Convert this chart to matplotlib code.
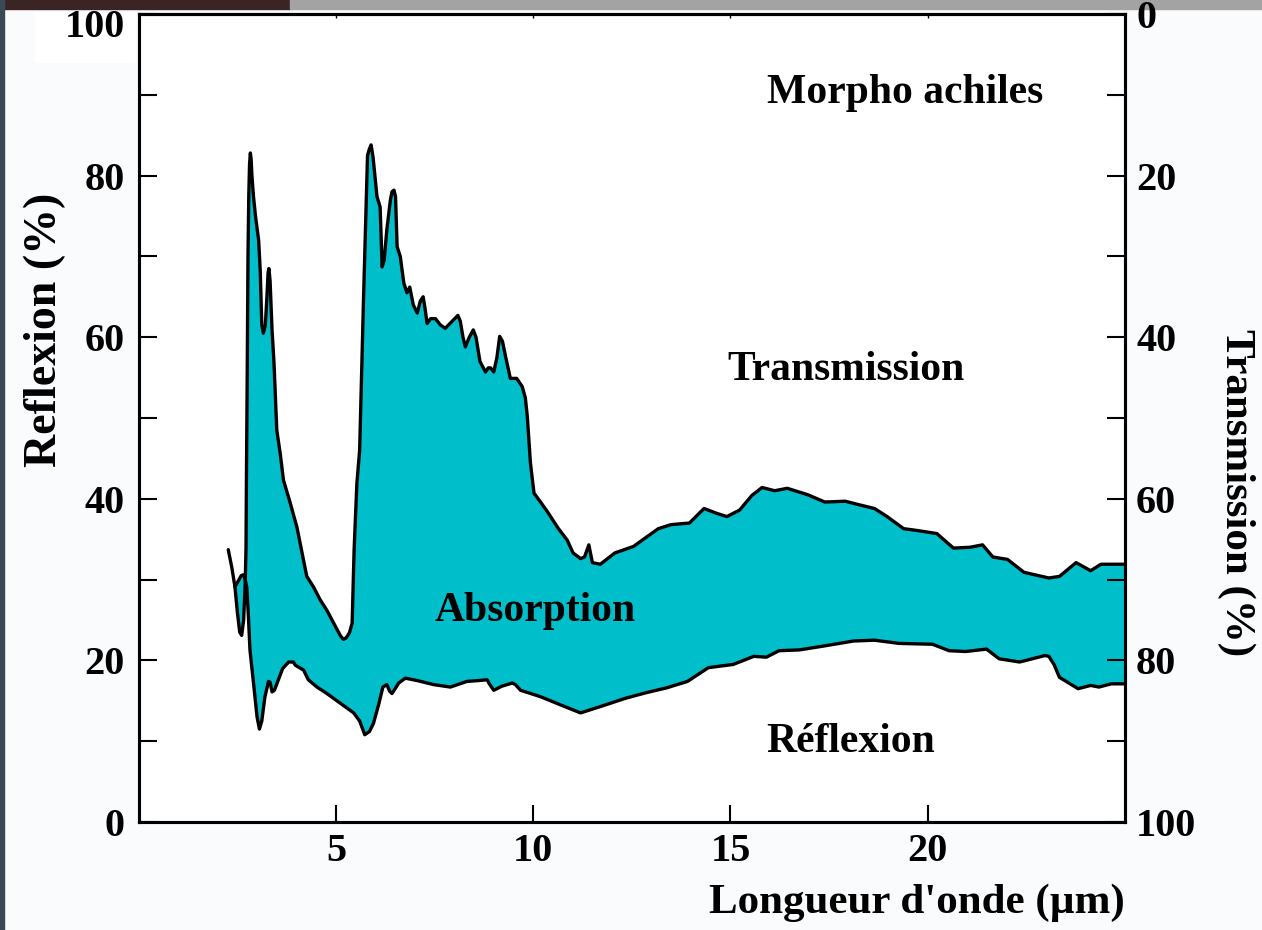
import matplotlib
matplotlib.use("Agg")
import matplotlib.pyplot as plt
from matplotlib.patches import Rectangle
import numpy as np

# ---- data ----
upper_x = [2.44, 2.50, 2.56, 2.61, 2.66, 2.70, 2.72, 2.73, 2.75, 2.77, 2.79, 2.81, 2.83, 2.85, 2.87,
           2.91, 2.96, 3.04, 3.08, 3.12, 3.16, 3.21, 3.25, 3.28, 3.30, 3.33, 3.38, 3.43, 3.50, 3.59,
           3.67, 3.75, 3.84, 4.01, 4.26, 4.43, 4.60, 4.77, 5.03, 5.12, 5.19, 5.26, 5.34, 5.41, 5.46, 5.53,
           5.60, 5.70, 5.77, 5.80, 5.84, 5.89, 5.94, 6.04, 6.12, 6.17, 6.22, 6.29, 6.38, 6.42, 6.47, 6.51, 6.55,
           6.63, 6.72, 6.80, 6.87, 6.96, 7.06, 7.14, 7.21, 7.26, 7.31, 7.40, 7.52, 7.65, 7.77,
           7.95, 8.09, 8.15, 8.22, 8.28, 8.38, 8.48, 8.55, 8.65, 8.79, 8.86, 8.92, 9.00, 9.08,
           9.15, 9.22, 9.30, 9.42, 9.58, 9.72, 9.80, 9.85, 9.93, 10.02, 10.20, 10.36, 10.64,
           10.86, 11.01, 11.20, 11.30, 11.41, 11.50, 11.70, 12.07, 12.54, 13.17, 13.49, 13.96,
           14.33, 14.65, 14.91, 15.23, 15.54, 15.80, 16.12, 16.44, 16.96, 17.39, 17.91, 18.23,
           18.65, 18.97, 19.39, 19.70, 20.23, 20.65, 21.07, 21.39, 21.65, 22.02, 22.44, 23.07,
           23.34, 23.76, 24.13, 24.39, 25.00]
upper_y = [29.1, 26.0, 23.5, 23.1, 25.0, 29.6, 34.0, 42.0, 55.0, 70.0, 77.5, 81.5, 82.8, 82.0, 80.0,
           77.4, 75.0, 72.0, 68.3, 61.5, 60.5, 61.5, 65.0, 68.0, 68.5, 67.0, 60.9, 56.8, 48.5, 45.5,
           42.3, 41.0, 39.5, 36.5, 30.4, 29.1, 27.5, 26.2, 23.8, 23.0, 22.6, 22.8, 23.4, 24.6, 33.7, 41.9,
           46.0, 65.0, 77.4, 82.5, 83.2, 83.8, 82.3, 77.4, 76.1, 68.7, 69.5, 73.3, 77.0, 78.0, 78.2, 77.4, 71.2,
           70.0, 66.7, 65.5, 66.2, 64.0, 63.0, 64.5, 65.0, 63.5, 61.7, 62.3, 62.3, 61.5, 61.1,
           62.0, 62.7, 62.0, 60.0, 58.8, 60.0, 60.9, 60.0, 57.0, 55.7, 56.2, 56.2, 55.7, 57.5,
           60.1, 59.5, 57.6, 54.9, 54.9, 53.9, 52.5, 50.2, 44.4, 40.7, 39.5, 38.4, 36.3,
           34.9, 33.3, 32.6, 32.8, 34.3, 32.1, 31.9, 33.3, 34.1, 36.3, 36.8, 37.0,
           38.8, 38.2, 37.8, 38.6, 40.4, 41.4, 41.0, 41.3, 40.5, 39.6, 39.7, 39.3,
           38.8, 37.8, 36.3, 36.1, 35.7, 33.9, 34.0, 34.3, 32.8, 32.5, 30.9, 30.2,
           30.4, 32.1, 31.1, 31.9, 31.9]

lower_x = [2.27, 2.36, 2.44, 2.52, 2.60, 2.66, 2.70, 2.74, 2.78, 2.82, 2.91, 3.00, 3.06, 3.12,
           3.20, 3.29, 3.33, 3.38, 3.44, 3.54, 3.65, 3.80, 3.92, 3.97, 4.18, 4.30, 4.52, 4.77,
           5.11, 5.45, 5.60, 5.73, 5.85, 5.95, 6.08, 6.19, 6.29, 6.36, 6.42, 6.50, 6.59, 6.76,
           7.06, 7.48, 7.90, 8.32, 8.60, 8.83, 8.90, 9.00, 9.20, 9.47, 9.55, 9.68, 10.19, 10.69,
           11.20, 11.71, 12.33, 12.86, 13.38, 13.91, 14.44, 15.07, 15.59, 15.91, 16.23, 16.75,
           17.39, 18.12, 18.65, 19.28, 20.12, 20.54, 20.96, 21.49, 21.81, 22.33, 22.97, 23.07,
           23.20, 23.34, 23.81, 24.13, 24.34, 24.65, 25.00]
lower_y = [33.7, 31.5, 29.1, 29.8, 30.5, 30.6, 30.0, 29.0, 25.5, 21.3, 17.2, 13.0, 11.5, 12.5,
           15.5, 17.4, 17.3, 16.1, 16.3, 17.6, 19.0, 19.8, 19.8, 19.4, 18.8, 17.6, 16.7, 15.9,
           14.7, 13.5, 12.5, 10.8, 11.2, 12.2, 14.5, 16.7, 17.0, 16.2, 15.9, 16.5, 17.2, 17.8,
           17.5, 17.0, 16.7, 17.4, 17.5, 17.6, 17.0, 16.3, 16.8, 17.2, 17.0, 16.3, 15.5, 14.5,
           13.5, 14.3, 15.3, 16.0, 16.6, 17.4, 19.1, 19.5, 20.5, 20.4, 21.2, 21.3,
           21.8, 22.4, 22.5, 22.1, 22.0, 21.2, 21.1, 21.4, 20.2, 19.8, 20.6, 20.5,
           19.5, 17.9, 16.5, 16.9, 16.7, 17.1, 17.1]

y_ticks = [0, 20, 40, 60, 80, 100]
y_minor = [10, 30, 50, 70, 90]
x_ticks = [5, 10, 15, 20]

labels = {
    "Morpho achiles": (19.42, 89.0),
    "Transmission": (17.92, 54.7),
    "Absorption": (10.06, 24.9),
    "Réflexion": (18.05, 8.7),
}

FILL = "#00BFCB"
FONT = "Liberation Serif"

W, H = 1262, 930
fig = plt.figure(figsize=(W / 100, H / 100), dpi=100, facecolor="#fafbfd")
l, r, b, t = 138.7 / W, 1125 / W, 1 - 822 / H, 1 - 14 / H
ax = fig.add_axes([l, b, r - l, t - b])
ax.set_facecolor("white")

# decorative edges of the original scan
fig.patches.append(Rectangle((0, 1 - 9 / H), 290 / W, 9 / H, transform=fig.transFigure,
                             color="#3b2424", zorder=-1))
fig.patches.append(Rectangle((290 / W, 1 - 9 / H), 1 - 290 / W, 9 / H, transform=fig.transFigure,
                             color="#a3a3a3", zorder=-1))
fig.patches.append(Rectangle((0, 0), 4 / W, 1, transform=fig.transFigure,
                             color="#3a4a55", zorder=-1))
fig.patches.append(Rectangle((35 / W, 1 - 62 / H), 100 / W, 50 / H, transform=fig.transFigure,
                             color="white", zorder=-1))

poly_x = list(upper_x) + list(lower_x[::-1])
poly_y = list(upper_y) + list(lower_y[::-1])
ax.fill(poly_x, poly_y, color=FILL, lw=0, zorder=1)
ax.plot(upper_x, upper_y, color="black", lw=2.4, solid_joinstyle="round",
        solid_capstyle="round", zorder=2)
ax.plot(lower_x, lower_y, color="black", lw=2.4, solid_joinstyle="round",
        solid_capstyle="round", zorder=2)

ax.set_xlim(0, 25)
ax.set_ylim(0, 100)

for sp in ax.spines.values():
    sp.set_linewidth(2.2)

ax.set_yticks(y_ticks)
ax.set_yticklabels([str(v) if v != 100 else "" for v in y_ticks])
ax.set_yticks(y_minor, minor=True)
ax.set_xticks(x_ticks)
ax.tick_params(axis="y", which="both", direction="in", length=13, width=1.5, pad=10)
ax.tick_params(axis="x", which="both", direction="in", length=12, width=1.5, pad=8)
ax.tick_params(axis="both", labelsize=29)
for lab in ax.get_xticklabels() + ax.get_yticklabels():
    lab.set_fontfamily(FONT)
    lab.set_fontweight("bold")
# top-left label sits a little below its tick in the original
ax.annotate(str(y_ticks[-1]), xy=(0, y_ticks[-1]), xytext=(-10, -10),
            textcoords="offset points", ha="right", va="center", fontsize=29,
            fontfamily=FONT, fontweight="bold", annotation_clip=False, zorder=5)

# tiny ticks on the top frame
secx = ax.secondary_xaxis("top")
secx.set_xticks(x_ticks)
secx.tick_params(direction="in", length=3, width=1.0, labeltop=False)
secx.spines["top"].set_linewidth(2.2)

ax2 = ax.twinx()
ax2.set_ylim(100, 0)
ax2.set_yticks(y_ticks)
ax2.set_yticks(y_minor, minor=True)
ax2.tick_params(axis="y", which="both", direction="in", length=13, width=1.5, pad=8,
                labelsize=29)
for lab in ax2.get_yticklabels():
    lab.set_fontfamily(FONT)
    lab.set_fontweight("bold")
for sp in ax2.spines.values():
    sp.set_linewidth(2.2)

ax.set_ylabel("Reflexion (%)", fontsize=33, fontfamily=FONT, fontweight="bold")
ax.yaxis.set_label_coords(-0.074, 0.609)
ax2.set_ylabel("Transmission (%)", fontsize=31, fontfamily=FONT, fontweight="bold",
               rotation=270)
ax2.yaxis.set_label_coords(1.132, 0.408)
ax.set_xlabel("Longueur d'onde (µm)", fontsize=31, fontfamily=FONT, fontweight="bold",
              loc="right", labelpad=10)

for txt, (tx, ty) in labels.items():
    ax.text(tx, ty, txt, fontsize=30, fontfamily=FONT, fontweight="bold",
            ha="center", va="baseline", zorder=3)

fig.savefig("out.png", dpi=100, facecolor=fig.get_facecolor())
